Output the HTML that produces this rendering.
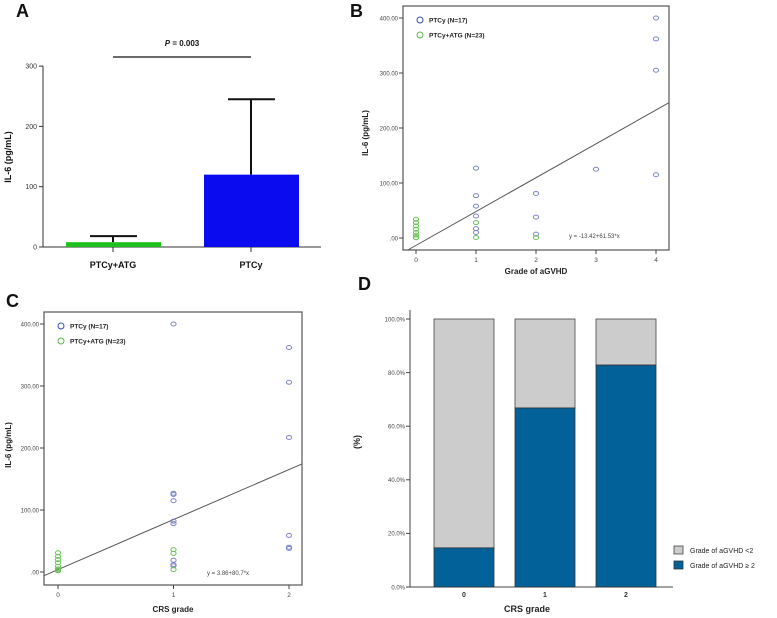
<!DOCTYPE html>
<html><head><meta charset="utf-8"><style>
body{margin:0;background:#fff}
svg{display:block;font-family:"Liberation Sans",Arial,sans-serif}
.t{font-size:7px;fill:#333}
.b{font-weight:bold}
</style></head><body>
<svg id="fig" width="777" height="618" viewBox="0 0 777 618" xmlns="http://www.w3.org/2000/svg">
<g id="pA"></g>
<g id="pB"></g>
<g id="pC"></g>
<g id="pD"></g>
</svg>
<script>
// Panel A data
const aCategories = ["PTCy+ATG", "PTCy"];
const aMeans = [8, 120];
const aErrors = [18, 245];
const aTicks = [0, 100, 200, 300];
// Panel B data
const bPtcyX = [4,4,4,4,3,2,2,2,1,1,1,1,1,1];
const bPtcyY = [400,362,305,115,125,81,38,7,127,77,58,40,17,10];
const bAtgX = [0,0,0,0,0,0,0,0,1,1,2];
const bAtgY = [34,28,22,16,10,5,1,0.5,28,1,1];
const bTicks = [0,100,200,300,400];
const bTickLabels = [".00","100.00","200.00","300.00","400.00"];
const bXTicks = [0,1,2,3,4];
const bFit = [-13.42, 61.53];
// Panel C data
const cPtcyX = [1,1,1,1,1,1,1,1,1,2,2,2,2,2,2];
const cPtcyY = [400,127,125,115,82,78,19,12,10,362,306,217,59,40,38];
const cAtgX = [0,0,0,0,0,0,0,0,1,1,1];
const cAtgY = [31,25,20,15,9,5,3,2,36,30,4];
const cXTicks = [0,1,2];
const cFit = [3.86, 80.7];
// Panel D data
const dCategories = ["0","1","2"];
const dHigh = [14.6, 66.8, 82.8];
const dTicks = [0,20,40,60,80,100];
const dTickLabels = ["0.0%","20.0%","40.0%","60.0%","80.0%","100.0%"];

const NS="http://www.w3.org/2000/svg";
function mk(p,tag,at,txt){const e=document.createElementNS(NS,tag);for(const k in at)e.setAttribute(k,at[k]);if(txt!==undefined)e.textContent=txt;p.appendChild(e);return e;}

// ---------- Panel A ----------
(function(){
const g=document.getElementById('pA');
const y=v=>247-v*0.603, xs=[113,251];
let e=mk(g,'text',{x:16,y:17,'font-size':'18',class:'b',fill:'#111'},'A');


e=mk(g,'line',{x1:43,y1:66,x2:43,y2:247,stroke:'#333','stroke-width':1});


e=mk(g,'line',{x1:43,y1:247,x2:321,y2:247,stroke:'#333','stroke-width':1});


aTicks.forEach(t=>{
 mk(g,'line',{x1:39,x2:43,y1:y(t),y2:y(t),stroke:'#333'});
 e=mk(g,'text',{x:37,y:y(t)+2.5,'text-anchor':'end',class:'t'},String(t));
 
 
});
const cols=['#1ec01e','#0b0bf0'];
aCategories.forEach((c,i)=>{
 const cx=xs[i];
 e=mk(g,'line',{x1:cx,x2:cx,y1:y(aErrors[i]),y2:y(aMeans[i]),stroke:'#111','stroke-width':2});
 
 
 mk(g,'line',{x1:cx-23,x2:cx+24,y1:y(aErrors[i]),y2:y(aErrors[i]),stroke:'#111','stroke-width':2});
 e=mk(g,'rect',{x:cx-47,y:y(aMeans[i]),width:95,height:247-y(aMeans[i]),fill:cols[i]});
 
 
 mk(g,'line',{x1:cx,x2:cx,y1:247,y2:252,stroke:'#333'});
 e=mk(g,'text',{x:cx,y:268,'text-anchor':'middle','font-size':'9',class:'b',fill:'#111'},c);
 
 
});
e=mk(g,'line',{x1:113,x2:251,y1:57,y2:57,stroke:'#111','stroke-width':1.3});


e=mk(g,'text',{x:182,y:46,'text-anchor':'middle','font-size':'8',class:'b',fill:'#111'});
e.innerHTML='<tspan font-style="italic">P</tspan> = 0.003';


e=mk(g,'text',{x:0,y:0,'font-size':'9',class:'b',fill:'#111','text-anchor':'middle',transform:'translate(11,157) rotate(-90)'},'IL-6 (pg/mL)');


})();

// ---------- scatter helper ----------
function scatter(g,o){
 const X=v=>o.x0+v*o.dx, Y=v=>o.y0-v*o.dy;
 let e=mk(g,'text',{x:o.lx,y:o.ly,'font-size':'18',class:'b',fill:'#111'},o.label);
 
 
 e=mk(g,'rect',{x:o.L,y:o.T,width:o.R-o.L,height:o.B-o.T,fill:'none',stroke:'#555','stroke-width':1.2});
 
 
 o.yt.forEach((t,i)=>{
  mk(g,'line',{x1:o.L-4,x2:o.L,y1:Y(t),y2:Y(t),stroke:'#444'});
  e=mk(g,'text',{x:o.L-5,y:Y(t)+2.3,'text-anchor':'end','font-size':'6',fill:'#444'},o.ytl[i]);
  
  
 });
 o.xt.forEach(t=>{
  mk(g,'line',{x1:X(t),x2:X(t),y1:o.B,y2:o.B+4,stroke:'#444'});
  e=mk(g,'text',{x:X(t),y:o.B+12,'text-anchor':'middle','font-size':'6.5',fill:'#444'},String(t));
  
  
 });
 const xa=(o.L-o.x0)/o.dx, xb=(o.R-o.x0)/o.dx;
 let ya=o.fit[0]+o.fit[1]*xa, yb=o.fit[0]+o.fit[1]*xb;
 let x1=xa,y1=ya; const ymin=(o.y0-o.B)/o.dy; if(y1<ymin){x1=(ymin-o.fit[0])/o.fit[1];y1=ymin;}
 let x2=xb,y2=yb; const ymax=(o.y0-o.T)/o.dy; if(y2>ymax){x2=(ymax-o.fit[0])/o.fit[1];y2=ymax;}
 e=mk(g,'line',{x1:X(x1),y1:Y(y1),x2:X(x2),y2:Y(y2),stroke:'#555','stroke-width':1});
 
 
 o.px.forEach((v,i)=>{
  e=mk(g,'ellipse',{cx:X(v),cy:Y(o.py[i]),rx:2.6,ry:2,fill:'none',stroke:'#7b84c8','stroke-width':1});
  
  
 });
 o.ax.forEach((v,i)=>{
  e=mk(g,'ellipse',{cx:X(v),cy:Y(o.ay[i]),rx:2.6,ry:2,fill:'none',stroke:'#66c255','stroke-width':1});
  
  
 });
 e=mk(g,'circle',{cx:o.L+17,cy:o.T+14,r:3,fill:'none',stroke:'#3b4ea8','stroke-width':1});
 
 
 e=mk(g,'text',{x:o.L+26,y:o.T+16.5,'font-size':'6.5',class:'b',fill:'#222'},'PTCy (N=17)');
 
 
 e=mk(g,'circle',{cx:o.L+17,cy:o.T+29,r:3,fill:'none',stroke:'#5ab84a','stroke-width':1});
 
 
 e=mk(g,'text',{x:o.L+26,y:o.T+31.5,'font-size':'6.5',class:'b',fill:'#222'},'PTCy+ATG (N=23)');
 
 
 e=mk(g,'text',{x:o.eqx,y:o.eqy,'font-size':'6',fill:'#444'},o.eq);
 
 
 e=mk(g,'text',{x:o.xtx,y:o.xty,'text-anchor':'middle','font-size':'8',class:'b',fill:'#222'},o.xtitle);
 
 
 e=mk(g,'text',{x:0,y:0,'text-anchor':'middle','font-size':'8',class:'b',fill:'#222',transform:'translate('+o.ytx+','+o.yty+') rotate(-90)'},'IL-6 (pg/mL)');
 
 
}
scatter(document.getElementById('pB'),{label:'B',lx:350,ly:17,L:403,R:669,T:6,B:250,x0:416,dx:60,y0:238,dy:0.55,
 yt:bTicks,ytl:bTickLabels,xt:bXTicks,fit:bFit,px:bPtcyX,py:bPtcyY,ax:bAtgX,ay:bAtgY,
 eq:'y = -13.42+61.53*x',eqx:569,eqy:238,xtitle:'Grade of aGVHD',xtx:536,xty:274,ytx:368,yty:133});
scatter(document.getElementById('pC'),{label:'C',lx:6,ly:307,L:44,R:302,T:312,B:585,x0:58,dx:115.5,y0:572,dy:0.62,
 yt:bTicks,ytl:bTickLabels,xt:cXTicks,fit:cFit,px:cPtcyX,py:cPtcyY,ax:cAtgX,ay:cAtgY,
 eq:'y = 3.86+80.7*x',eqx:207,eqy:575,xtitle:'CRS grade',xtx:173,xty:612,ytx:11,yty:445});

// ---------- Panel D ----------
(function(){
const g=document.getElementById('pD');
const y=v=>587-v*2.68, xs=[464,545,626];
let e=mk(g,'text',{x:358,y:290,'font-size':'18',class:'b',fill:'#111'},'D');


e=mk(g,'line',{x1:410,x2:410,y1:310,y2:587,stroke:'#444'});


e=mk(g,'line',{x1:410,x2:673,y1:587,y2:587,stroke:'#444'});


dTicks.forEach((t,i)=>{
 mk(g,'line',{x1:406,x2:410,y1:y(t),y2:y(t),stroke:'#444'});
 e=mk(g,'text',{x:405,y:y(t)+2.3,'text-anchor':'end','font-size':'6',fill:'#444'},dTickLabels[i]);
 
 
});
dCategories.forEach((c,i)=>{
 const cx=xs[i];
 e=mk(g,'rect',{x:cx-30,y:y(100),width:60,height:y(dHigh[i])-y(100),fill:'#cccccc',stroke:'#444','stroke-width':0.8});
 
 
 e=mk(g,'rect',{x:cx-30,y:y(dHigh[i]),width:60,height:587-y(dHigh[i]),fill:'#026198',stroke:'#333','stroke-width':0.8});
 
 
 e=mk(g,'text',{x:cx,y:597,'text-anchor':'middle','font-size':'7',class:'b',fill:'#333'},c);
 
 
});
e=mk(g,'text',{x:527,y:612,'text-anchor':'middle','font-size':'9',class:'b',fill:'#222'},'CRS grade');


e=mk(g,'text',{x:0,y:0,'text-anchor':'middle','font-size':'9',class:'b',fill:'#222',transform:'translate(360,442) rotate(-90)'},'(%)');


e=mk(g,'rect',{x:674,y:546,width:9,height:8,fill:'#cccccc',stroke:'#444','stroke-width':0.8});


e=mk(g,'text',{x:690,y:553,'font-size':'7',fill:'#222'},'Grade of aGVHD <2');


e=mk(g,'rect',{x:674,y:561,width:9,height:8,fill:'#026198',stroke:'#333','stroke-width':0.8});


e=mk(g,'text',{x:690,y:568,'font-size':'7',fill:'#222'},'Grade of aGVHD \u2265 2');


})();
</script>
</body></html>
